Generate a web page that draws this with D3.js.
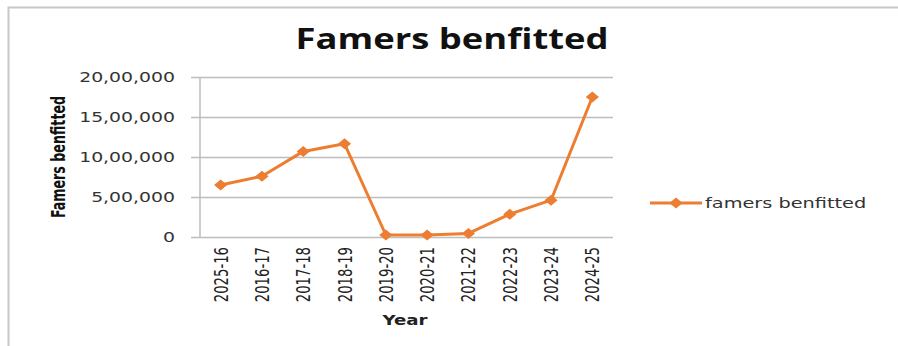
<!DOCTYPE html>
<html>
<head>
<meta charset="utf-8">
<script src="https://cdn.jsdelivr.net/npm/d3@7"></script>
<style>
  html, body { margin: 0; padding: 0; background: #fff; }
  svg { display: block; }
</style>
</head>
<body>
<svg id="chart" width="898" height="346"></svg>
<script>
// Farmers benefitted per year
const years = ["2025-16", "2016-17", "2017-18", "2018-19", "2019-20", "2020-21", "2021-22", "2022-23", "2023-24", "2024-25"];
const farmers = [650000, 760000, 1070000, 1165000, 25000, 25000, 45000, 285000, 460000, 1750000];
const yTicks = [0, 500000, 1000000, 1500000, 2000000];
const yTickLabels = ["0", "5,00,000", "10,00,000", "15,00,000", "20,00,000"];

const svg = d3.select("#chart");
const W = 898, H = 346;
const plot = { left: 200, right: 613, top: 77, bottom: 237 };
const orange = "#ED7D31";
const narrow = "'DejaVu Sans Condensed', 'Liberation Sans Narrow', sans-serif";
const verdana = "'DejaVu Sans', Verdana, sans-serif";
const wide = 1.3; // horizontal stretch applied to the wide-set labels

// frame
svg.append("path")
  .attr("d", `M8.5,${H} V7.5 H${W}`)
  .attr("fill", "none").attr("stroke", "#c8c8c8").attr("stroke-width", 2);

const x = d3.scaleBand().domain(years).range([plot.left, plot.right]).paddingInner(0).paddingOuter(0);
const y = d3.scaleLinear().domain([0, 2000000]).range([plot.bottom, plot.top]);

// gridlines + y axis
const yAxis = d3.axisLeft(y)
  .tickValues(yTicks)
  .tickFormat((d, i) => yTickLabels[i])
  .tickSize(-(plot.right - plot.left + 9))
  .tickPadding(0);
const gy = svg.append("g").attr("transform", `translate(${plot.left - 9},0)`).call(yAxis);
gy.select(".domain").remove();
gy.selectAll(".tick line").attr("stroke", "#bdbdbd").attr("stroke-width", 1.5);
gy.selectAll(".tick text")
  .attr("x", null)
  .attr("transform", `translate(-16,0) scale(${wide},1)`)
  .attr("font-family", verdana).attr("font-size", 14.5).attr("fill", "#333");

// vertical axis line
svg.append("line")
  .attr("x1", plot.left).attr("x2", plot.left)
  .attr("y1", plot.top).attr("y2", plot.bottom + 0.5)
  .attr("stroke", "#bdbdbd").attr("stroke-width", 1.5);

// x axis labels (rotated, condensed)
const xAxis = d3.axisBottom(x).tickSize(0).tickPadding(0);
const gx = svg.append("g").attr("transform", `translate(0,${plot.bottom})`).call(xAxis);
gx.select(".domain").remove();
gx.selectAll(".tick text")
  .attr("font-family", narrow).attr("font-size", 16).attr("fill", "#222")
  .attr("text-anchor", "end")
  .attr("dy", "0.35em")
  .attr("transform", "translate(0,10) rotate(-90) scale(0.92,1.25)")
  .attr("x", 0).attr("y", 0);

// line
const cx = (i) => x(years[i]) + x.bandwidth() / 2;
const line = d3.line().x((d, i) => cx(i)).y(d => y(d));
svg.append("path").datum(farmers)
  .attr("d", line)
  .attr("fill", "none").attr("stroke", orange).attr("stroke-width", 3)
  .attr("stroke-linejoin", "round");

const marker = d3.symbol().type(d3.symbolSquare).size(60);
svg.append("g").selectAll("path").data(farmers).join("path")
  .attr("d", marker)
  .attr("transform", (d, i) => `translate(${cx(i)},${y(d)}) scale(1.2,1) rotate(45)`)
  .attr("fill", orange);

// title
svg.append("text")
  .attr("transform", `translate(452,49) scale(${wide},1)`)
  .attr("text-anchor", "middle")
  .attr("font-family", "'Open Sans', 'DejaVu Sans', sans-serif")
  .attr("font-weight", "bold").attr("font-size", 28).attr("fill", "#111")
  .text("Famers benfitted");

// y axis title
svg.append("text")
  .attr("transform", "translate(65,157) rotate(-90) scale(0.88,1.2)")
  .attr("text-anchor", "middle")
  .attr("font-family", narrow).attr("font-weight", "bold").attr("font-size", 16).attr("fill", "#111")
  .text("Famers benfitted");

// x axis title
svg.append("text")
  .attr("transform", `translate(405,325) scale(${wide},1)`)
  .attr("text-anchor", "middle")
  .attr("font-family", verdana).attr("font-weight", "bold").attr("font-size", 14).attr("fill", "#222")
  .text("Year");

// legend
const lg = svg.append("g").attr("transform", "translate(650,203)");
lg.append("line").attr("x1", 0).attr("x2", 52).attr("y1", 0).attr("y2", 0)
  .attr("stroke", orange).attr("stroke-width", 3);
lg.append("path").attr("d", marker).attr("transform", "translate(26,0) scale(1.2,1) rotate(45)").attr("fill", orange);
lg.append("text").attr("transform", "translate(55,0) scale(1.38,1)").attr("dy", "0.35em")
  .attr("font-family", verdana).attr("font-size", 14).attr("fill", "#333")
  .text("famers benfitted");
</script>
</body>
</html>
